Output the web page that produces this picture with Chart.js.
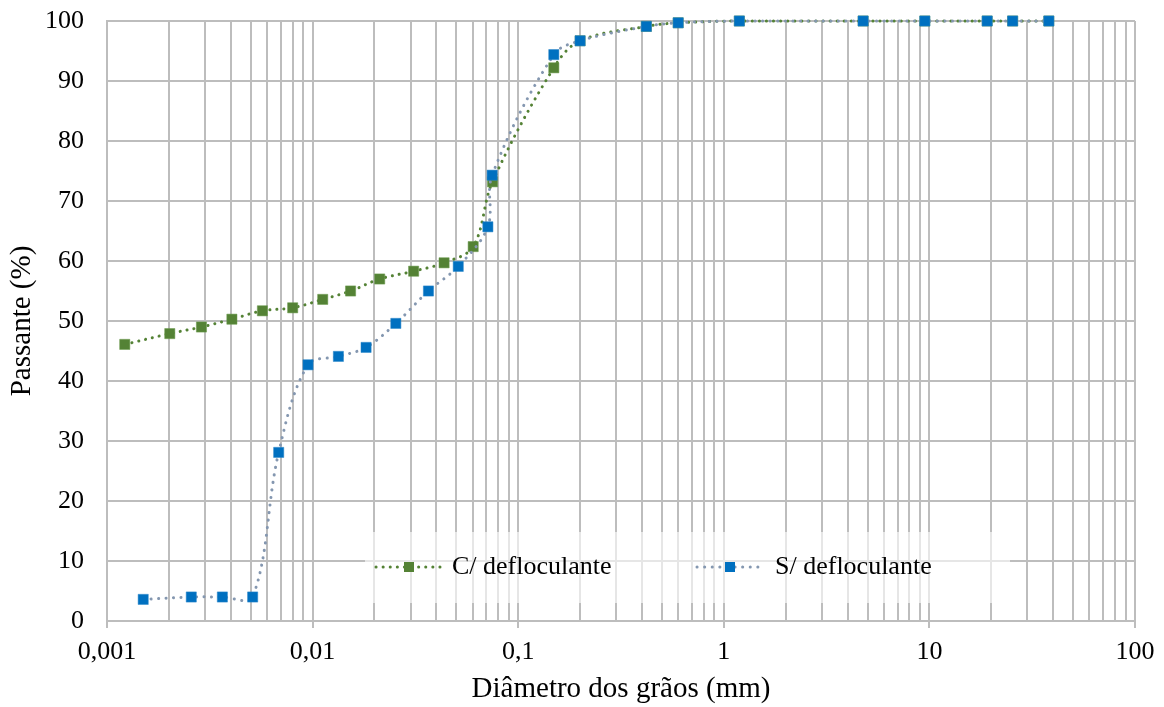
<!DOCTYPE html>
<html>
<head>
<meta charset="utf-8">
<script src="https://cdn.jsdelivr.net/npm/chart.js@4/dist/chart.umd.min.js"></script>
<style>
  html, body { margin: 0; padding: 0; background: #fff; }
  #wrap { width: 1164px; height: 707px; }
</style>
</head>
<body>
<div id="wrap"><canvas id="curve"></canvas></div>
<script>
// decades on the log axis and their printed labels
const decades = [0.001, 0.01, 0.1, 1, 10, 100];
const decadeLabels = ['0,001', '0,01', '0,1', '1', '10', '100'];

// C/ defloculante  (diameter mm, % passing)
const diamCom = [0.00122, 0.00202, 0.00288, 0.00405, 0.0057, 0.0080, 0.0112, 0.0153, 0.0212, 0.0310, 0.0436, 0.0604, 0.075, 0.149, 0.2, 0.42, 0.6, 1.19, 4.76, 9.5, 19.1, 25.4, 38.1];
const passCom = [46.1, 47.9, 49.0, 50.3, 51.7, 52.2, 53.6, 55.0, 57.0, 58.3, 59.7, 62.4, 73.2, 92.2, 96.7, 99.1, 99.7, 100, 100, 100, 100, 100, 100];

// S/ defloculante
const diamSem = [0.0015, 0.00257, 0.00364, 0.00511, 0.00684, 0.0095, 0.01335, 0.0182, 0.0254, 0.0366, 0.0511, 0.0712, 0.0747, 0.149, 0.2, 0.42, 0.6, 1.19, 4.76, 9.5, 19.1, 25.4, 38.1];
const passSem = [3.6, 4.0, 4.0, 4.0, 28.1, 42.7, 44.1, 45.6, 49.6, 55.0, 59.1, 65.7, 74.3, 94.4, 96.7, 99.1, 99.7, 100, 100, 100, 100, 100, 100];

const serif = "'Liberation Serif', 'Times New Roman', serif";
const gridGrey = '#bdbdbd';

Chart.defaults.font.family = serif;
Chart.defaults.color = '#000';

// 1..9 x each decade -> vertical grid lines
const gridTicks = [];
decades.forEach((d, i) => {
    if (i === decades.length - 1) { gridTicks.push({ value: d, major: true }); return; }
    for (let k = 1; k <= 9; k++) gridTicks.push({ value: +(d * k).toPrecision(3), major: k === 1 });
});

const toPoints = (xs, ys) => xs.map((x, i) => ({ x: x, y: ys[i] }));

// legend drawn inside the plot, on a see-through white box
const innerLegend = {
    id: 'innerLegend',
    afterDraw(chart) {
        const ctx = chart.ctx;
        const ds = chart.data.datasets;
        const slots = [{ x: 376, tx: 452 }, { x: 697, tx: 775 }];
        const y = 567;
        ctx.save();
        ctx.fillStyle = 'rgba(255,255,255,0.62)';
        ctx.fillRect(365, 532, 645, 71);
        ds.forEach((d, i) => {
            const s = slots[i];
            ctx.strokeStyle = d.borderColor;
            ctx.lineWidth = d.borderWidth;
            ctx.lineCap = 'round';
            ctx.setLineDash(d.borderDash);
            ctx.beginPath();
            ctx.moveTo(s.x, y);
            ctx.lineTo(s.x + 64, y);
            ctx.stroke();
            ctx.setLineDash([]);
            ctx.fillStyle = d.pointBackgroundColor;
            ctx.fillRect(s.x + 28, y - 5, 10, 10);
            ctx.fillStyle = '#000';
            ctx.font = '26px ' + serif;
            ctx.textBaseline = 'middle';
            ctx.fillText(d.label, s.tx, y);
        });
        ctx.restore();
    }
};

new Chart(document.getElementById('curve'), {
    type: 'line',
    data: {
        datasets: [{
            label: 'C/ defloculante',
            data: toPoints(diamCom, passCom),
            borderColor: '#548235',
            borderWidth: 3,
            borderDash: [0.1, 7],
            borderCapStyle: 'round',
            pointStyle: 'rect',
            pointRadius: 7.2,
            pointBackgroundColor: '#548235',
            pointBorderColor: '#6b9a4c',
            pointBorderWidth: 0.5,
            tension: 0.35,
            clip: false,
            order: 2
        }, {
            label: 'S/ defloculante',
            data: toPoints(diamSem, passSem),
            borderColor: '#8497b0',
            borderWidth: 3,
            borderDash: [0.1, 7.5],
            borderCapStyle: 'round',
            pointStyle: 'rect',
            pointRadius: 7.2,
            pointBackgroundColor: '#0070c0',
            pointBorderColor: '#2a86c8',
            pointBorderWidth: 0.5,
            tension: 0.35,
            clip: false,
            order: 1
        }]
    },
    options: {
        responsive: true,
        maintainAspectRatio: false,
        animation: false,
        layout: {
            padding: { left: 0, right: 29, top: 21, bottom: 0 }
        },
        plugins: {
            legend: { display: false },
            tooltip: { enabled: false }
        },
        scales: {
            x: {
                type: 'logarithmic',
                min: 0.001,
                max: 100,
                afterBuildTicks: (scale) => { scale.ticks = gridTicks.map(t => ({ value: t.value, major: t.major })); },
                afterFit: (scale) => { scale.height = 86; },
                grid: {
                    color: gridGrey,
                    lineWidth: 2,
                    tickLength: 7,
                    tickColor: (c) => (c.tick && c.tick.major ? gridGrey : 'rgba(0,0,0,0)')
                },
                border: { color: gridGrey, width: 2 },
                ticks: {
                    autoSkip: false,
                    maxRotation: 0,
                    padding: 9,
                    font: { size: 26 },
                    callback: (value) => {
                        const i = decades.findIndex(d => Math.abs(d - value) < d * 1e-6);
                        return i >= 0 ? decadeLabels[i] : '';
                    }
                },
                title: {
                    display: true,
                    text: 'Diâmetro dos grãos (mm)',
                    font: { size: 29 },
                    padding: { top: 0, bottom: 0 }
                }
            },
            y: {
                min: 0,
                max: 100,
                afterFit: (scale) => {
                    scale.width = 107;
                    scale.paddingTop = 10;
                    scale.paddingBottom = 10;
                },
                grid: {
                    color: gridGrey,
                    lineWidth: 2,
                    drawTicks: false
                },
                border: { color: gridGrey, width: 2 },
                ticks: {
                    stepSize: 10,
                    padding: 23,
                    font: { size: 26 }
                },
                title: {
                    display: true,
                    text: 'Passante (%)',
                    font: { size: 29 },
                    padding: { top: 5, bottom: 0 }
                }
            }
        }
    },
    plugins: [innerLegend]
});
</script>
</body>
</html>
